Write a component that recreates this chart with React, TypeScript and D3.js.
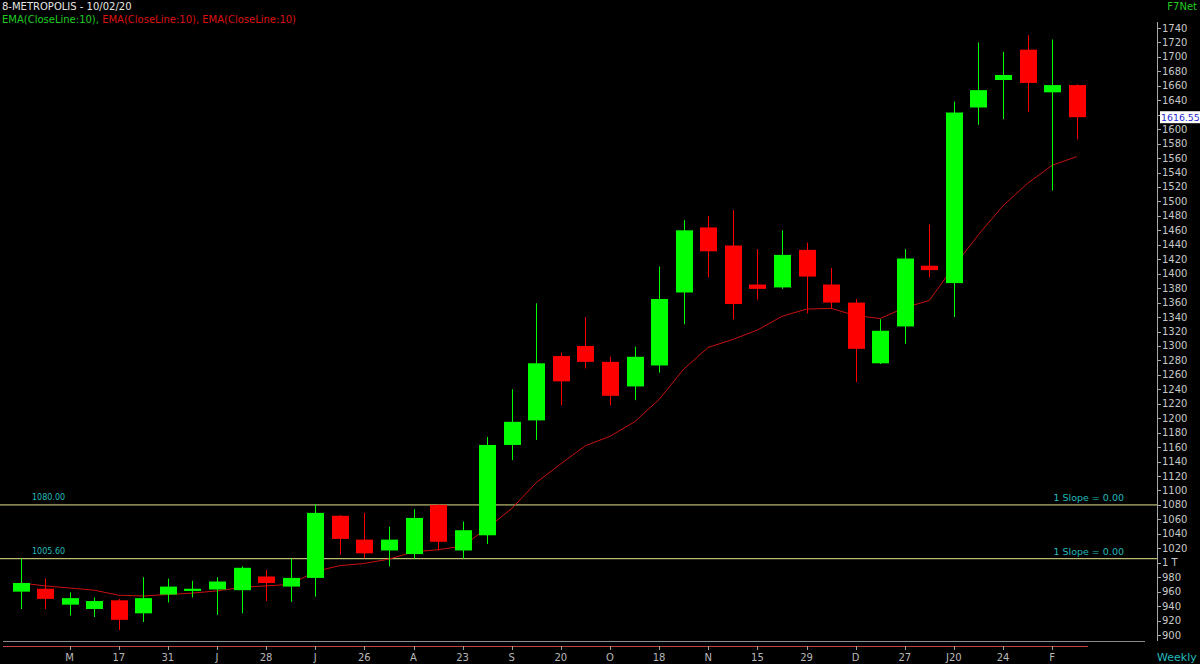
import React from "react";
import * as d3 from "d3";

const opens = [960,964,942,936,948,930,956,961,963,962,981,967,979,1065,1032,1017,1012,1080,1017,1038,1163,1197,1286,1300,1278,1244,1273,1374,1464,1439,1385,1381,1433,1385,1360,1276,1327,1411,1387,1630,1668,1710,1651,1661];
const highs = [1006,978,959,952,950,980,978,975,980,995,990,1006,1081,1066,1069,1050,1074,1081,1057,1174,1240,1359,1291,1340,1285,1299,1410,1474,1480,1488,1434,1460,1443,1408,1365,1337,1434,1468,1638,1720,1707,1730,1724,1662];
const lows = [936,936,927,925,907,918,945,952,928,930,947,946,953,1011,1006,995,1005,1017,1005,1026,1142,1170,1218,1269,1218,1225,1263,1330,1395,1337,1364,1379,1345,1351,1250,1275,1303,1395,1340,1606,1614,1624,1515,1586];
const closes = [972,950,951,947,921,951,967,964,974,993,972,979,1069,1033,1013,1032,1062,1029,1045,1163,1195,1276,1251,1278,1231,1285,1365,1460,1431,1358,1379,1426,1396,1360,1296,1321,1421,1405,1623,1654,1675,1664,1661,1616.55];
const ema10 = [972,968,965,962,955,954,956,958,961,966,968,970,988,996,999,1005,1015,1018,1023,1048,1075,1111,1137,1162,1175,1195,1226,1268,1298,1309,1322,1341,1351,1352,1342,1338,1353,1363,1410,1454,1494,1525,1550,1562];

const xTickLabels = ["M","17","31","J","28","J","26","A","23","S","20","O","18","N","15","29","D","27","J20","24","F"];
const xTickIndex = [2,4,6,8,10,12,14,16,18,20,22,24,26,28,30,32,34,36,38,40,42];
const yTicks = d3.range(900, 1741, 20);
const hLines = [1080, 1005.6];
const lastPrice = 1616.55;

const FONT = "Tahoma, 'DejaVu Sans', sans-serif";
const GREEN = "#00ff00";
const RED = "#ff0000";

export default function App() {
  const x = d3.scaleLinear().domain([0, 43]).range([20.5, 1076.7]);
  const y = d3.scaleLinear().domain([900, 1740]).range([635, 28]);
  const bw = 17;
  const emaLine = d3.line<number>().x((_, i) => x(i)).y((d) => y(d));
  const priceY = y(lastPrice);

  return (
    <svg
      width={1200}
      height={664}
      style={{ position: "fixed", left: 0, top: 0, background: "#000" }}
      fontFamily={FONT}
    >
      <rect x={0} y={0} width={1200} height={664} fill="#000" />
      <text x={2} y={10} fontSize={10} fill="#e6e6e6">8-METROPOLIS - 10/02/20</text>
      <text x={2} y={23} fontSize={10}>
        <tspan fill="#22cc22">EMA(CloseLine:10), </tspan>
        <tspan fill="#dd1111">EMA(CloseLine:10), EMA(CloseLine:10)</tspan>
      </text>
      <text x={1197} y={10} fontSize={10} fill="#22cc22" textAnchor="end">F7Net</text>

      {/* horizontal level lines */}
      {hLines.map((v) => (
        <g key={v}>
          <line x1={0} x2={1157} y1={y(v)} y2={y(v)} stroke="#e6e68c" strokeWidth={1} />
          <text x={32} y={y(v) - 5} fontSize={8} fill="#22bbbb">{v.toFixed(2)}</text>
          <text x={1124} y={y(v) - 4} fontSize={9.5} fill="#22bbbb" textAnchor="end">1 Slope = 0.00</text>
        </g>
      ))}

      {/* EMA */}
      <path d={emaLine(ema10) || ""} fill="none" stroke="#c81010" strokeWidth={1} />

      {/* candles */}
      {closes.map((c, i) => {
        const o = opens[i];
        const up = c >= o;
        const col = up ? GREEN : RED;
        const top = y(Math.max(o, c));
        const bot = y(Math.min(o, c));
        const cx = Math.round(x(i)) + 0.5;
        return (
          <g key={i}>
            <line x1={cx} x2={cx} y1={y(highs[i])} y2={y(lows[i])} stroke={col} strokeWidth={1} />
            <rect x={cx - bw / 2} y={top} width={bw} height={Math.max(bot - top, 2)} fill={col} />
          </g>
        );
      })}

      {/* y axis */}
      <line x1={1157.5} x2={1157.5} y1={22} y2={641} stroke="#a8a8a8" strokeWidth={1} />
      {yTicks.map((v) => {
        const hidden = Math.abs(y(v) - priceY) < 9;
        return (
          <g key={v}>
            <line x1={1157} x2={1161} y1={Math.round(y(v)) + 0.5} y2={Math.round(y(v)) + 0.5} stroke="#a8a8a8" />
            {!hidden && (
              <text x={1162} y={y(v) + 3.5} fontSize={10} fill="#c8c8c8">{v === 1000 ? "1 T" : v}</text>
            )}
          </g>
        );
      })}
      <rect x={1160} y={priceY - 6} width={40} height={12} fill="#ffffff" />
      <text x={1161} y={priceY + 4} fontSize={9.4} fill="#2a2ad0">{lastPrice.toFixed(2)}</text>

      {/* bottom axis */}
      <line x1={3} x2={1145} y1={641.5} y2={641.5} stroke="#8a8a8a" strokeWidth={1} />
      <line x1={3} x2={1088} y1={646.5} y2={646.5} stroke="#c04040" strokeWidth={1} />
      {xTickIndex.map((idx, k) => (
        <g key={idx}>
          <line x1={Math.round(x(idx)) + 0.5} x2={Math.round(x(idx)) + 0.5} y1={646} y2={650} stroke="#a0a0a0" />
          <text x={x(idx)} y={661} fontSize={10} fill="#b8b8b8" textAnchor="middle">{xTickLabels[k]}</text>
        </g>
      ))}
      <text x={1157} y={661} fontSize={11} fill="#22bbbb">Weekly</text>
    </svg>
  );
}
